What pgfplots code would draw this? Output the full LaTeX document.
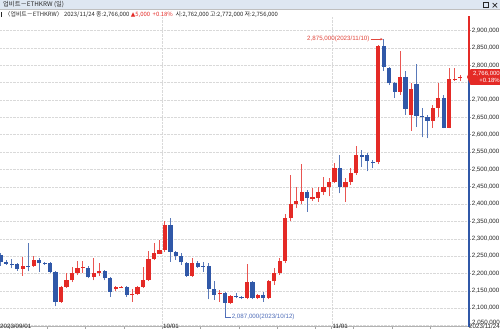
\documentclass[border=0pt]{standalone}
\usepackage{fontspec}
\setmainfont{Liberation Sans}
\newfontfamily\kr{Noto Sans CJK KR}
\newfontfamily\dv{DejaVu Sans}
\usepackage{pgfplots}
\pgfplotsset{compat=1.18}
\usepackage{pgfplotstable}
\usetikzlibrary{arrows.meta,calc}

\definecolor{upc}{RGB}{228,42,38}
\definecolor{dnc}{RGB}{48,88,168}
\definecolor{annr}{RGB}{225,70,60}
\definecolor{annb}{RGB}{80,110,185}
\definecolor{barbg}{RGB}{222,231,242}
\definecolor{txt}{RGB}{40,40,40}

% up (red) candles, values in thousands of KRW
\pgfplotstableread{
d O H L C
4 2213 2247 2193 2222
6 2222 2249 2220 2239
11 2119 2165 2115 2162
12 2162 2200 2158 2180
13 2180 2218 2175 2201
14 2200 2235 2195 2217
15 2217 2235 2200 2219
17 2190 2245 2180 2201
18 2201 2230 2192 2206
21 2155 2165 2150 2160
22 2159 2163 2157 2161
24 2138 2154 2119 2141
25 2141 2165 2138 2162
26 2162 2220 2158 2181
27 2181 2265 2178 2241
28 2241 2287 2238 2258
29 2257 2297 2255 2268
30 2268 2350 2262 2340
35 2193 2244 2190 2231
40 2140 2153 2119 2143
42 2116 2138 2112 2135
45 2129 2228 2125 2174
47 2129 2141 2125 2138
49 2129 2181 2126 2177
50 2177 2215 2167 2201
51 2201 2245 2196 2236
52 2236 2370 2230 2361
53 2361 2484 2350 2399
54 2399 2450 2388 2409
55 2409 2516 2399 2436
57 2416 2446 2410 2419
58 2417 2450 2407 2436
59 2436 2479 2426 2450
60 2450 2475 2422 2465
61 2465 2518 2460 2505
63 2450 2475 2407 2465
64 2465 2505 2455 2489
65 2489 2566 2484 2540
69 2520 2857 2515 2854
73 2724 2840 2715 2767
75 2657 2748 2611 2732
79 2640 2686 2620 2678
80 2678 2748 2652 2707
82 2620 2791 2618 2760
83 2760 2791 2755 2761
84 2762 2772 2756 2766
}\uptab

% down (blue) candles
\pgfplotstableread{
d O H L C
0 2254 2258 2222 2232
1 2234 2240 2225 2228
2 2228 2242 2215 2226
3 2228 2230 2208 2212
5 2222 2287 2206 2220
7 2239 2244 2205 2230
8 2230 2232 2225 2228
9 2229 2232 2202 2205
10 2205 2207 2105 2119
16 2217 2222 2186 2189
19 2206 2210 2180 2186
20 2186 2190 2132 2148
23 2160 2163 2133 2138
31 2340 2359 2234 2263
32 2262 2265 2240 2249
33 2249 2258 2225 2232
34 2230 2232 2190 2193
36 2230 2236 2216 2220
37 2221 2234 2205 2219
38 2222 2230 2125 2155
39 2155 2177 2124 2138
41 2143 2146 2087 2116
43 2134 2144 2128 2132
44 2133 2136 2126 2129
46 2174 2177 2125 2129
48 2138 2148 2119 2129
56 2436 2440 2378 2417
62 2503 2542 2431 2448
66 2540 2556 2508 2537
67 2540 2547 2494 2524
68 2522 2527 2503 2520
70 2854 2875 2784 2796
71 2791 2796 2743 2748
72 2748 2752 2705 2724
74 2767 2784 2657 2674
76 2746 2804 2623 2655
77 2655 2676 2592 2650
78 2650 2657 2590 2640
81 2707 2715 2618 2620
}\dntab

\begin{document}
\begin{tikzpicture}[x=1pt,y=1pt]
\useasboundingbox (0,0) rectangle (500,330);
\fill[white] (0,0) rectangle (500,330);
\begin{axis}[
  at={(0,10)}, anchor=south west, scale only axis,
  width=469pt, height=310.5pt,
  xmin=-0.16, xmax=85.6, ymin=2047.1, ymax=2941.8,
  axis x line*=bottom, axis y line*=right,
  axis line style={draw=gray!60, line width=0.6pt},
  tick align=outside,
  major tick length=2.2pt, minor tick length=2.2pt,
  tick style={draw=gray!70, line width=0.5pt},
  xtick={29.5,60.5}, xticklabels={},
  minor xtick={1.5,8.5,15.5,22.5,36.5,43.5,50.5,57.5,64.5,71.5,78.5},
  ytick={2050,2100,2150,2200,2250,2300,2350,2400,2450,2500,2550,2600,2650,2700,2750,2800,2850,2900},
  yticklabels={{},{2,100,000},{2,150,000},{2,200,000},{2,250,000},{2,300,000},{2,350,000},{2,400,000},{2,450,000},{2,500,000},{2,550,000},{2,600,000},{2,650,000},{2,700,000},{},{2,800,000},{2,850,000},{2,900,000}},
  yticklabel style={anchor=west, inner sep=0.4pt, font=\fontsize{6.2}{7}\selectfont, text=txt},
  xmajorgrids, ymajorgrids,
  major grid style={densely dotted, draw=gray!30, line width=0.4pt},
]
% wicks
\addplot[draw=none, mark=none, error bars/.cd, y dir=plus, y explicit, error mark=none,
  error bar style={solid, line width=0.9pt, draw=upc!80}]
  table[x=d, y=L, y error plus expr=\thisrow{H}-\thisrow{L}] {\uptab};
\addplot[draw=none, mark=none, error bars/.cd, y dir=plus, y explicit, error mark=none,
  error bar style={solid, line width=0.9pt, draw=dnc!80}]
  table[x=d, y=L, y error plus expr=\thisrow{H}-\thisrow{L}] {\dntab};
% bodies
\addplot[draw=none, mark=none, error bars/.cd, y dir=plus, y explicit, error mark=none,
  error bar style={solid, line width=4.2pt, draw=upc}]
  table[x=d, y=O, y error plus expr={max(\thisrow{C}-\thisrow{O},1.6)}] {\uptab};
\addplot[draw=none, mark=none, error bars/.cd, y dir=plus, y explicit, error mark=none,
  error bar style={solid, line width=4.2pt, draw=dnc}]
  table[x=d, y=C, y error plus expr={max(\thisrow{O}-\thisrow{C},1.6)}] {\dntab};
\coordinate (hi) at (axis cs:70,2875);
\coordinate (lo) at (axis cs:41,2087);
\coordinate (cp) at (axis cs:85.6,2766);
\coordinate (tr) at (rel axis cs:1,1);
\coordinate (br) at (rel axis cs:1,0);
\coordinate (oct) at (axis cs:29.5,2047.1);
\coordinate (nov) at (axis cs:60.5,2047.1);
\end{axis}
% right axis line, red above current price, blue below
\draw[line width=1.3pt, upc] (cp) -- (tr);
\draw[line width=1.3pt, dnc] (br) -- (cp);
% lowest price label, raised slightly above the date label
\node[anchor=base west, inner sep=0.4pt, text=txt, font=\fontsize{6.2}{7}\selectfont] at ($(br)+(2.6,1.9)$) {2,050,000};
% current price box
\fill[upc] ($(cp)+(-2,0)$) -- ($(cp)+(1.5,7.8)$) -- ($(cp)+(32,7.8)$) -- ($(cp)+(32,-7.8)$) -- ($(cp)+(1.5,-7.8)$) -- cycle;
\node[anchor=east, inner sep=0pt, text=white, font=\fontsize{6}{6.6}\selectfont, align=right] at ($(cp)+(31,0)$) {2,766,000\\+0.18\%};
% high annotation
\node[anchor=east, inner sep=0pt, text=annr, font=\fontsize{6.2}{7}\selectfont] at ($(hi)+(-14,0)$) {2,875,000(2023/11/10)};
\draw[annr, line width=0.5pt, -{Stealth[length=2.6pt,width=2.4pt]}] ($(hi)+(-13,0)$) -- ($(hi)+(-0.8,0)$);
% low annotation
\draw[annb, line width=0.5pt] (lo) -- ($(lo)+(0,-4.3)$) -- ($(lo)+(6,-4.3)$);
\node[anchor=west, inner sep=0pt, text=annb, font=\fontsize{6.2}{7}\selectfont] at ($(lo)+(6.5,-4.3)$) {2,087,000(2023/10/12)};
% x labels
\node[anchor=base west, inner sep=0pt, text=txt, font=\fontsize{6.2}{7}\selectfont] at (0,2.0) {2023/09/01};
\node[anchor=base west, inner sep=0pt, text=txt, font=\fontsize{6.2}{7}\selectfont] at ($(oct|-0,2.0)+(0.8,0)$) {10/01};
\node[anchor=base west, inner sep=0pt, text=txt, font=\fontsize{6.2}{7}\selectfont] at ($(nov|-0,2.0)+(0.8,0)$) {11/01};
\node[anchor=base east, inner sep=0pt, text=txt, font=\fontsize{6.2}{7}\selectfont] at (500,1.6) {2023/11/24};
% title bar
\fill[barbg] (0,320.5) rectangle (500,330);
\draw[gray!50, line width=0.4pt] (0,320.5) -- (500,320.5);
\node[anchor=west, inner sep=0pt, text=txt] at (3,325.3) {\kr\fontsize{6.3}{7}\selectfont 업비트－ETHKRW (일)};
\draw[txt, line width=0.5pt] (483.5,322.5) rectangle (488.5,327.5);
\draw[txt, line width=1.2pt] (483.5,327.2) -- (488.5,327.2);
\draw[txt, line width=0.7pt] (492.5,322.5) -- (497,327) (492.5,327) -- (497,322.5);
% info line
\fill[txt] (0.8,313.3) rectangle (2.2,318.3);
\node[anchor=west, inner sep=0pt, text=txt] at (4.5,315.8) {\kr\fontsize{5.9}{7}\selectfont 〈업비트－ETHKRW〉 2023/11/24 종:2,766,000 \textcolor{upc}{{\dv ▲}5,000 \ +0.18\%} \ 시:2,762,000 고:2,772,000 저:2,756,000};
\end{tikzpicture}
\end{document}
